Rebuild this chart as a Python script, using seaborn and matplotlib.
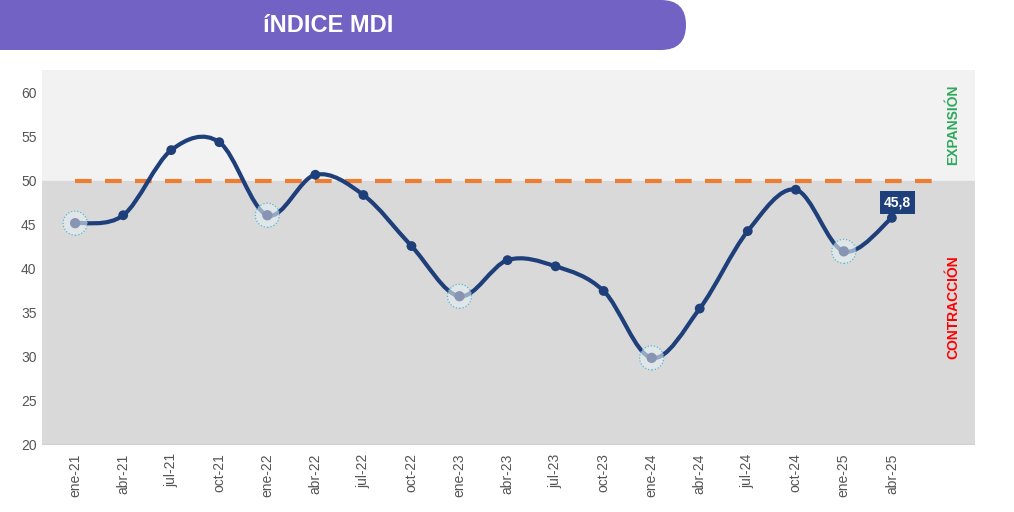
import numpy as np
import matplotlib.pyplot as plt
import seaborn as sns
import pandas as pd
from matplotlib.path import Path
from matplotlib.patches import PathPatch, FancyBboxPatch

months = ["ene-21", "abr-21", "jul-21", "oct-21", "ene-22", "abr-22", "jul-22", "oct-22",
          "ene-23", "abr-23", "jul-23", "oct-23", "ene-24", "abr-24", "jul-24", "oct-24",
          "ene-25", "abr-25"]
mdi = [45.2, 46.1, 53.5, 54.4, 46.1, 50.7, 48.4, 42.6,
       36.9, 41.0, 40.3, 37.5, 29.9, 35.5, 44.3, 49.0,
       42.0, 45.8]
threshold = 50
last_label = "45,8"

df = pd.DataFrame({"mes": months, "idx": range(len(months)), "mdi": mdi})
df["enero"] = df["mes"].str.startswith("ene")

sns.set_style("white")
plt.rcParams["font.family"] = ["Liberation Sans", "DejaVu Sans"]

fig = plt.figure(figsize=(10.14, 5.12), dpi=100)
ax = fig.add_axes([42 / 1014, 1 - 445 / 512, (975 - 42) / 1014, (445 - 70) / 512])

x0, x1 = -0.69, 18.73
y0, y1 = 20, 62.6
ax.set_xlim(x0, x1)
ax.set_ylim(y0, y1)

# background bands
ax.axhspan(threshold, y1, color="#f2f2f2", zorder=0)
ax.axhspan(y0, threshold, color="#d9d9d9", zorder=0)

# smoothed line (catmull-rom as bezier path)
pts = np.column_stack([df["idx"], df["mdi"]]).astype(float)
ext = np.vstack([pts[0], pts, pts[-1]])
verts = [tuple(pts[0])]
codes = [Path.MOVETO]
for i in range(1, len(ext) - 2):
    p0, p1, p2, p3 = ext[i - 1], ext[i], ext[i + 1], ext[i + 2]
    c1 = p1 + (p2 - p0) / 6
    c2 = p2 - (p3 - p1) / 6
    verts += [tuple(c1), tuple(c2), tuple(p2)]
    codes += [Path.CURVE4] * 3
ax.add_patch(PathPatch(Path(verts, codes), facecolor="none", edgecolor="#1f3f7a",
                       lw=3, capstyle="round", zorder=3))

# threshold line
ax.plot([0, 18], [threshold, threshold], color="#ed7d31", lw=3, ls=(0, (4, 3.2)), zorder=2)

# markers
sns.scatterplot(data=df[~df["enero"]], x="idx", y="mdi", color="#1f3f7a", s=50,
                edgecolor="none", zorder=4, ax=ax, legend=False)
hl = df[df["enero"]]
ax.scatter(hl["idx"], hl["mdi"], s=300, facecolor=(0.9, 0.94, 0.95, 0.6), edgecolor="#5bb8d8",
           linestyle=(0, (1, 1.5)), lw=0.9, zorder=3.5)
sns.scatterplot(data=hl, x="idx", y="mdi", color="#8794b4", s=55,
                edgecolor="none", zorder=5, ax=ax, legend=False)

# last value label
ax.annotate(last_label, (df["idx"].iloc[-1], df["mdi"].iloc[-1]), xytext=(4, 11),
            textcoords="offset points", ha="center", va="center", color="white",
            fontsize=10, fontweight="bold", zorder=6,
            bbox=dict(boxstyle="square,pad=0.3", fc="#1f3f7a", ec="none"))

# side labels
ax.text(18.27, 56.4, "EXPANSIÓN", rotation=90, ha="center", va="center",
        color="#2eaa5c", fontsize=10, fontweight="bold")
ax.text(18.27, 35.6, "CONTRACCIÓN", rotation=90, ha="center", va="center",
        color="#ff0000", fontsize=10, fontweight="bold")

ax.set_xticks(df["idx"])
ax.set_xticklabels(months, rotation=90, fontsize=10, color="#555555")
ax.set_yticks(range(20, 61, 5))
ax.set_yticklabels([str(v) for v in range(20, 61, 5)], fontsize=10, color="#555555")
ax.tick_params(axis="x", length=0, pad=6)
ax.tick_params(axis="y", length=0, pad=4)
ax.set_xlabel("")
ax.set_ylabel("")
for s in ax.spines.values():
    s.set_visible(False)
ax.axhline(y0, color="#d0d0d0", lw=1.5, zorder=1)

# title banner (pixel-space overlay)
bax = fig.add_axes([0, 0, 1, 1], zorder=-1)
bax.set_xlim(0, 1014)
bax.set_ylim(512, 0)
bax.axis("off")
bax.add_patch(FancyBboxPatch((-60, 0), 686 + 60, 50,
                             boxstyle="round,pad=0,rounding_size=25",
                             fc="#7262c4", ec="none"))
bax.text(328, 25, "íNDICE MDI", ha="center", va="center",
         color="white", fontsize=17, fontweight="bold")

fig.savefig("out.png", dpi=100)
